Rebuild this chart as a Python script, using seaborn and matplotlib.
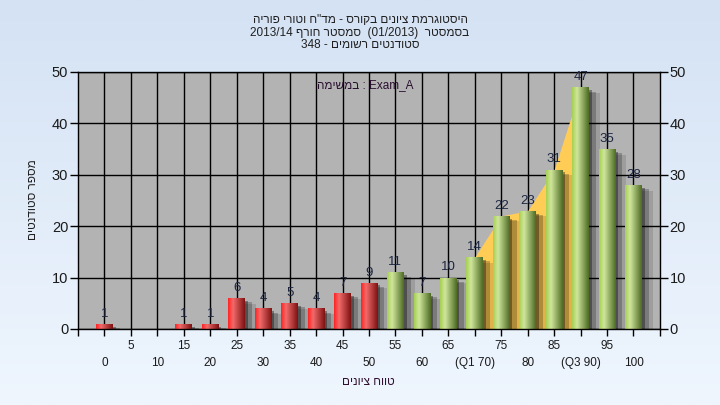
import re
import numpy as np
import matplotlib
matplotlib.use("Agg")
import matplotlib.pyplot as plt
import matplotlib.patheffects as pe
from matplotlib.colors import LinearSegmentedColormap
import seaborn as sns

# --- data ---
grade_bins = [0, 5, 10, 15, 20, 25, 30, 35, 40, 45, 50,
              55, 60, 65, 70, 75, 80, 85, 90, 95, 100]
tick_labels = ["0", "5", "10", "15", "20", "25", "30", "35", "40", "45", "50",
               "55", "60", "65", "(Q1 70)", "75", "80", "85", "(Q3 90)", "95", "100"]
student_counts = [1, 0, 0, 1, 1, 6, 4, 5, 4, 7, 9,
                  11, 7, 10, 14, 22, 23, 31, 47, 35, 28]
pass_grade = 55
iqr_grades = [70, 75, 80, 85, 90]

title_lines = ['היסטוגרמת ציונים בקורס - מד"ח וטורי פוריה',
               'בסמסטר  (01/2013)  סמסטר חורף 2013/14',
               'סטודנטים רשומים - 348']
legend_text = 'Exam_A : במשימה'
x_title = 'טווח ציונים'
y_title = 'מספר סטודנטים'


def rtl(s):
    """very small bidi: reverse hebrew runs, keep latin/digit runs."""
    parts = re.split(r'([0-9A-Za-z][0-9A-Za-z_/.]*)', s)
    mirror = str.maketrans('()', ')(')
    fixed = [p if i % 2 else p[::-1].translate(mirror) for i, p in enumerate(parts)]
    return ''.join(reversed(fixed))


sns.set_style("ticks")
plt.rcParams['font.family'] = ['Liberation Sans', 'DejaVu Sans']

fig = plt.figure(figsize=(7.2, 4.05), dpi=100)

# light blue gradient background
bg = fig.add_axes([0, 0, 1, 1], zorder=-10)
bg_cmap = LinearSegmentedColormap.from_list('bg', ['#d4e2f4', '#eff6fe'])
bg.imshow(np.linspace(0, 1, 256)[:, None], cmap=bg_cmap, aspect='auto', extent=[0, 1, 0, 1])
bg.axis('off')

ax = fig.add_axes([0.1083, 0.1877, 0.8083, 0.6346])
ax.set_facecolor('#b3b3b3')

bar_colors = ['#e8252a' if g < pass_grade else '#9cc450' for g in grade_bins]
sns.barplot(x=tick_labels, y=student_counts, hue=tick_labels, palette=bar_colors,
            width=0.63, legend=False, ax=ax, zorder=2, saturation=1, linewidth=0)

# interquartile area (Q1..Q3) behind the bars
iqr_idx = [grade_bins.index(g) for g in iqr_grades]
iqr_vals = [student_counts[i] for i in iqr_idx]
ax.fill_between(iqr_idx, iqr_vals, 0, color='#ffcc55', zorder=1, linewidth=0)

# 3d-ish shading on the bars
red_cmap = LinearSegmentedColormap.from_list('r', [(0, '#ff2424'), (0.3, '#f26a6a'), (1, '#7e1212')])
green_cmap = LinearSegmentedColormap.from_list('g', [(0, '#a6cf52'), (0.3, '#cfe79c'), (1, '#4f6b24')])
grad = np.linspace(0, 1, 64)[None, :]
for patch, g in zip(ax.patches, grade_bins):
    h = patch.get_height()
    if h <= 0:
        continue
    patch.set_edgecolor('none')
    patch.set_path_effects([pe.SimplePatchShadow(offset=(8, -4), shadow_rgbFace='k', alpha=0.12),
                            pe.SimplePatchShadow(offset=(5, -3), shadow_rgbFace='k', alpha=0.22),
                            pe.SimplePatchShadow(offset=(2, -2), shadow_rgbFace='k', alpha=0.35),
                            pe.Normal()])
    x0, w = patch.get_x(), patch.get_width()
    im = ax.imshow(grad, cmap=red_cmap if g < pass_grade else green_cmap, aspect='auto',
                   extent=[x0, x0 + w, 0, h], zorder=2.1)
    im.set_clip_path(patch)

for i, v in enumerate(student_counts):
    if v > 0:
        ax.annotate(str(v), (i, v), xytext=(0, 3), textcoords='offset points',
                    ha='center', va='bottom', fontsize=9.5, color='#1c2640', zorder=3)

ax.set_xlim(-1, 21)
ax.set_ylim(0, 50)
ax.set_yticks(range(0, 51, 10))
ax.grid(True, color='black', linewidth=1)
ax.set_axisbelow(True)
for s in ax.spines.values():
    s.set_color('black')
    s.set_linewidth(1)

ax.set_xticks(range(len(tick_labels)))
ax.set_xticklabels([lab if i % 2 else '\n' + lab for i, lab in enumerate(tick_labels)],
                   fontsize=8.5, color='#1a1a1a', linespacing=1.5)
ax.set_xticks([-1, 21], minor=True)
ax.tick_params(axis='x', which='both', length=5, width=1, color='black', pad=3)
ax.tick_params(axis='y', left=True, right=True, labelleft=True, labelright=True,
               length=6, width=1, color='black', labelsize=10.5, labelcolor='#1a1a1a', pad=1)
ax.set_xlabel('')
ax.set_ylabel('')

ax.text(0.493, 0.95, rtl(legend_text), transform=ax.transAxes, ha='center', va='center',
        fontsize=8.5, color='#2a1030')

fig.text(0.5, 0.965, '\n'.join(rtl(t) for t in title_lines), ha='center', va='top',
         fontsize=8.5, color='#202020', linespacing=1.05)
fig.text(0.511, 0.057, rtl(x_title), ha='center', va='center', fontsize=8.5, color='#301030')
fig.text(0.046, 0.506, rtl(y_title), ha='center', va='center', rotation=90,
         fontsize=8.5, color='#202020')

fig.savefig('out.png', dpi=100)
